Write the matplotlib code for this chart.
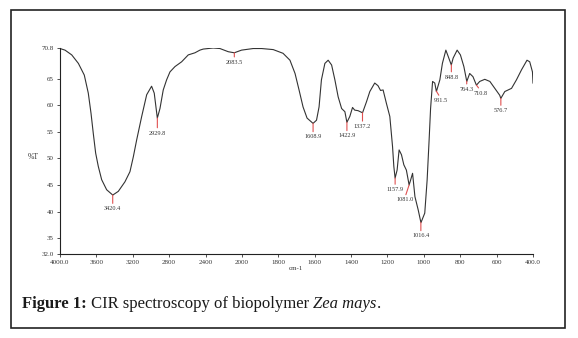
import numpy as np
import matplotlib
matplotlib.use("Agg")
import matplotlib.pyplot as plt
from matplotlib.patches import Rectangle

# ---- data ----
wavenumber = [4000, 3945, 3871, 3798, 3733, 3689, 3659, 3634, 3608, 3579, 3542, 3487,
              3420, 3359, 3286, 3231, 3194, 3157, 3102, 3047, 2993, 2964, 2930, 2901,
              2865, 2828, 2791, 2736, 2663, 2590, 2516, 2462, 2425, 2316, 2242, 2150,
              2084, 2004, 1938, 1892, 1828, 1774, 1736, 1708, 1686, 1664, 1642, 1609,
              1590, 1576, 1563, 1544, 1526, 1507, 1489, 1471, 1452, 1434, 1423, 1407,
              1392, 1380, 1362, 1337, 1315, 1297, 1270, 1252, 1238, 1224, 1206, 1187,
              1172, 1165, 1158, 1147, 1136, 1123, 1110, 1096, 1081, 1073, 1062, 1049,
              1031, 1016, 995, 982, 971, 963, 952, 940, 931, 912, 898, 879, 866, 849,
              839, 817, 799, 780, 764, 748, 730, 711, 693, 665, 637, 610, 583, 577,
              555, 518, 491, 463, 433, 418, 403, 400]
transmittance = [70.7, 70.4, 69.5, 67.9, 65.7, 62.3, 58.5, 54.7, 51.0, 48.5, 46.0, 44.1,
                 43.1, 43.8, 45.6, 47.5, 50.3, 53.5, 57.9, 62.0, 63.6, 62.3, 57.6, 59.4,
                 62.9, 64.8, 66.3, 67.3, 68.2, 69.5, 69.9, 70.4, 70.6, 70.8, 70.7, 70.1,
                 69.9, 70.4, 70.7, 70.7, 70.5, 69.8, 68.5, 66.0, 62.9, 59.7, 57.6, 56.6,
                 57.2, 59.7, 64.8, 67.9, 68.5, 67.6, 64.8, 61.6, 59.4, 58.8, 56.8, 57.9,
                 59.6, 59.1, 59.0, 58.6, 60.7, 62.6, 64.2, 63.7, 62.8, 62.9, 60.4, 57.9,
                 52.2, 48.5, 46.3, 47.8, 51.6, 50.7, 48.8, 47.8, 45.0, 45.9, 47.2, 42.8,
                 40.3, 37.9, 39.7, 45.9, 53.5, 59.4, 64.5, 64.2, 62.6, 64.8, 67.9, 70.4,
                 69.2, 67.6, 68.9, 70.4, 69.5, 67.3, 64.5, 66.0, 65.4, 63.8, 64.5, 64.9,
                 64.5, 63.2, 61.9, 61.3, 62.6, 63.2, 64.8, 66.7, 68.5, 68.2, 66.3, 64.2]

peak_wn = [3420.4, 2929.8, 2083.5, 1608.9, 1422.9, 1337.2, 1157.9, 1081.0, 1016.4,
           931.5, 848.8, 764.3, 710.8, 576.7]
peak_labels = ["3420.4", "2929.8", "2083.5", "1608.9", "1422.9", "1337.2", "1157.9",
               "1081.0", "1016.4", "931.5", "848.8", "764.3", "710.8", "576.7"]

xticks = [4000, 3600, 3200, 2800, 2400, 2000, 1800, 1600, 1400, 1200, 1000, 800, 600, 400]
xticklabels = ["4000.0", "3600", "3200", "2800", "2400", "2000", "1800", "1600", "1400",
               "1200", "1000", "800", "600", "400.0"]
yticks = [32.0, 35, 40, 45, 50, 55, 60, 65, 70.8]
yticklabels = ["32.0", "35", "40", "45", "50", "55", "60", "65", "70.8"]

# label offsets in points (dx, dy)
label_offsets = [(0, -8), (0, -9), (0, -5), (0, -8), (0, -8), (0, -8), (0, -6.5),
                 (-3, -9), (0, -8), (3, -5), (0, -7), (0, -4), (3, -4), (0, -7)]

# ---- figure ----
W, H = 578, 338
fig = plt.figure(figsize=(W / 100, H / 100), dpi=100)
serif = "Liberation Serif"

fig.patches.append(Rectangle((11 / W, 1 - 328 / H), 554 / W, 318 / H,
                             transform=fig.transFigure, fill=False,
                             edgecolor="#222222", linewidth=1.2))

ax = fig.add_axes([60 / W, 1 - 254 / H, 473 / W, 206 / H])


def fwd(x):
    x = np.asarray(x, dtype=float)
    return np.where(x > 2000, 2000 + (x - 2000) / 2.0, x)


def inv(y):
    y = np.asarray(y, dtype=float)
    return np.where(y > 2000, 2000 + (y - 2000) * 2.0, y)


ax.set_xscale("function", functions=(fwd, inv))
ax.plot(wavenumber, transmittance, color="#333333", lw=0.8)
ax.set_xlim(4000, 400)
ax.set_ylim(32.0, 70.8)

ax.set_xticks(xticks)
ax.set_xticklabels(xticklabels)
ax.set_yticks(yticks)
ax.set_yticklabels(yticklabels)
ax.xaxis.set_minor_locator(matplotlib.ticker.NullLocator())
for lab in ax.get_xticklabels() + ax.get_yticklabels():
    lab.set_fontfamily(serif)
    lab.set_fontsize(5)
    lab.set_color("#333333")
ax.tick_params(axis="both", length=2.5, width=0.6, pad=2, color="#333333")

for s in ["top", "right"]:
    ax.spines[s].set_visible(False)
for s in ["left", "bottom"]:
    ax.spines[s].set_linewidth(0.8)
    ax.spines[s].set_color("#222222")

wn_rev = np.array(wavenumber[::-1], dtype=float)
t_rev = np.array(transmittance[::-1], dtype=float)
for wn, lbl, (dx, dy) in zip(peak_wn, peak_labels, label_offsets):
    t = float(np.interp(wn, wn_rev, t_rev))
    ax.annotate(lbl, xy=(wn, t), xytext=(dx, dy), textcoords="offset points",
                ha="center", va="top", fontsize=4.5, family=serif, color="#333333",
                arrowprops=dict(arrowstyle="-", color="#e05050", lw=0.8,
                                shrinkA=0, shrinkB=0, relpos=(0.5, 1.0)))

fig.text(33 / W, 1 - 157 / H, "%T", fontsize=5.5, family=serif, color="#333333",
         ha="center", va="center")
fig.text(296 / W, 1 - 268 / H, "cm-1", fontsize=5, family=serif, color="#333333",
         ha="center", va="center")

# caption
fig.canvas.draw()
renderer = fig.canvas.get_renderer()
x = 22 / W
y = 1 - 304 / H
parts = [("Figure 1:", "bold", "normal"), (" CIR spectroscopy of biopolymer ", "normal", "normal"),
         ("Zea mays", "normal", "italic"), (".", "normal", "normal")]
for txt, weight, style in parts:
    t = fig.text(x, y, txt, fontsize=12, family=serif, fontweight=weight,
                 fontstyle=style, color="#1a1a1a", ha="left", va="center")
    bb = t.get_window_extent(renderer=renderer)
    x += bb.width / W

fig.savefig("out.png", dpi=100)
